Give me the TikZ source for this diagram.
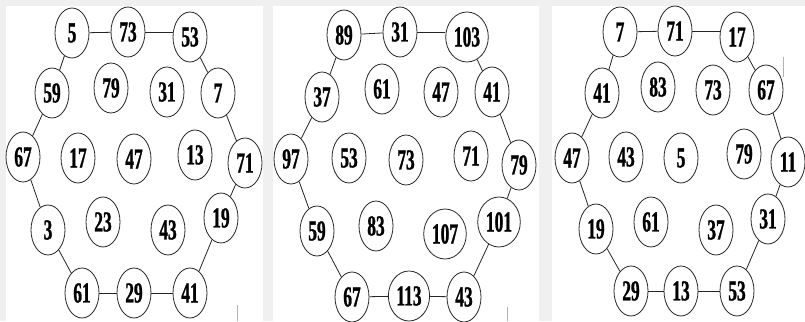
\documentclass[tikz,border=0pt]{standalone}
\usepackage{fontspec}
\usepackage{tikz}
\usetikzlibrary{shapes.geometric}
\newfontfamily\numfont{Liberation Serif}[FakeStretch=0.6, FakeBold=1]

\begin{document}
\begin{tikzpicture}[
    x=1pt, y=-1pt,
    numnode/.style={ellipse, draw=black!85, line width=0.8pt, fill=white, minimum width=34pt, minimum height=50pt, inner xsep=2pt, inner ysep=2pt, font=\numfont\bfseries\fontsize{29}{29}\selectfont},
    link/.style={draw=black!85, line width=0.8pt},
    panel/.style={fill=white, draw=none},
    tick/.style={draw=black!30, line width=0.6pt}
  ]

    % Background and the three panels
    \useasboundingbox (0,0) rectangle (805,321);
    \fill[gray!12] (0,0) rectangle (805,321);
    \path[panel] (6,6) rectangle (263,321);
    \path[panel] (273,6) rectangle (539,321);
    \path[panel] (552,6) rectangle (805,321);

    % Left hexagon - ring
    \node[numnode] (a5) at (72,33) {5};
    \node[numnode] (a73) at (128,32) {73};
    \node[numnode] (a53) at (190,37) {53};
    \node[numnode] (a59) at (52,93) {59};
    \node[numnode] (a7) at (218,93) {7};
    \node[numnode] (a67) at (23,157) {67};
    \node[numnode] (a71) at (245,163) {71};
    \node[numnode] (a3) at (48,230) {3};
    \node[numnode] (a19) at (221,218) {19};
    \node[numnode] (a61) at (82,293) {61};
    \node[numnode] (a29) at (134,293) {29};
    \node[numnode] (a41) at (190,293) {41};

    % Left hexagon - inside
    \node[numnode] (a79) at (111,88) {79};
    \node[numnode] (a31) at (167,92) {31};
    \node[numnode] (a17) at (78,158) {17};
    \node[numnode] (a47) at (134,159) {47};
    \node[numnode] (a13) at (195,155) {13};
    \node[numnode] (a23) at (103,222) {23};
    \node[numnode] (a43) at (168,230) {43};

    % Middle hexagon - ring
    \node[numnode] (b89) at (344,35) {89};
    \node[numnode] (b31) at (400,32) {31};
    \node[numnode] (b103) at (467,37) {103};
    \node[numnode] (b37) at (322,97) {37};
    \node[numnode] (b41) at (492,92) {41};
    \node[numnode] (b97) at (291,159) {97};
    \node[numnode] (b79) at (519,165) {79};
    \node[numnode] (b59) at (317,231) {59};
    \node[numnode] (b101) at (499,222) {101};
    \node[numnode] (b67) at (352,297) {67};
    \node[numnode] (b113) at (409,296) {113};
    \node[numnode] (b43) at (464,297) {43};

    % Middle hexagon - inside
    \node[numnode] (b61) at (382,89) {61};
    \node[numnode] (b47) at (441,92) {47};
    \node[numnode] (b53) at (349,158) {53};
    \node[numnode] (b73) at (406,160) {73};
    \node[numnode] (b71) at (471,156) {71};
    \node[numnode] (b83) at (376,226) {83};
    \node[numnode] (b107) at (445,234) {107};

    % Right hexagon - ring
    \node[numnode] (c7) at (620,32) {7};
    \node[numnode] (c71) at (675,31) {71};
    \node[numnode] (c17) at (737,37) {17};
    \node[numnode] (c41) at (602,93) {41};
    \node[numnode] (c67) at (766,90) {67};
    \node[numnode] (c47) at (572,158) {47};
    \node[numnode] (c11) at (788,162) {11};
    \node[numnode] (c19) at (596,229) {19};
    \node[numnode] (c31) at (768,219) {31};
    \node[numnode] (c29) at (631,291) {29};
    \node[numnode] (c13) at (681,291) {13};
    \node[numnode] (c53) at (737,291) {53};

    % Right hexagon - inside
    \node[numnode] (c83) at (658,87) {83};
    \node[numnode] (c73) at (713,90) {73};
    \node[numnode] (c43) at (626,157) {43};
    \node[numnode] (c5) at (681,158) {5};
    \node[numnode] (c79) at (744,154) {79};
    \node[numnode] (c61) at (651,222) {61};
    \node[numnode] (c37) at (716,230) {37};

    % Ring links (top row kept level)
    \draw[link] (a5) -- (a73);
    \draw[link] (a73) -- (a53.west |- a73);
    \draw[link] (a53) -- (a7);
    \draw[link] (a7) -- (a71);
    \draw[link] (a71) -- (a19);
    \draw[link] (a19) -- (a41);
    \draw[link] (a41) -- (a29);
    \draw[link] (a29) -- (a61);
    \draw[link] (a61) -- (a3);
    \draw[link] (a3) -- (a67);
    \draw[link] (a67) -- (a59);
    \draw[link] (a59) -- (a5);

    \draw[link] (b89) -- (b31);
    \draw[link] (b31) -- (b103.west |- b31);
    \draw[link] (b103) -- (b41);
    \draw[link] (b41) -- (b79);
    \draw[link] (b79) -- (b101);
    \draw[link] (b101) -- (b43);
    \draw[link] (b43) -- (b113);
    \draw[link] (b113) -- (b67);
    \draw[link] (b67) -- (b59);
    \draw[link] (b59) -- (b97);
    \draw[link] (b97) -- (b37);
    \draw[link] (b37) -- (b89);

    \draw[link] (c7) -- (c71);
    \draw[link] (c71) -- (c17.west |- c71);
    \draw[link] (c17) -- (c67);
    \draw[link] (c67) -- (c11);
    \draw[link] (c11) -- (c31);
    \draw[link] (c31) -- (c53);
    \draw[link] (c53) -- (c13);
    \draw[link] (c13) -- (c29);
    \draw[link] (c29) -- (c19);
    \draw[link] (c19) -- (c47);
    \draw[link] (c47) -- (c41);
    \draw[link] (c41) -- (c7);

    % Stray marks
    \draw[tick] (237,305) -- (237,321);
    \draw[tick] (507,307) -- (507,321);
    \draw[tick] (783,57) -- (783,77);

  \end{tikzpicture}
\end{document}
